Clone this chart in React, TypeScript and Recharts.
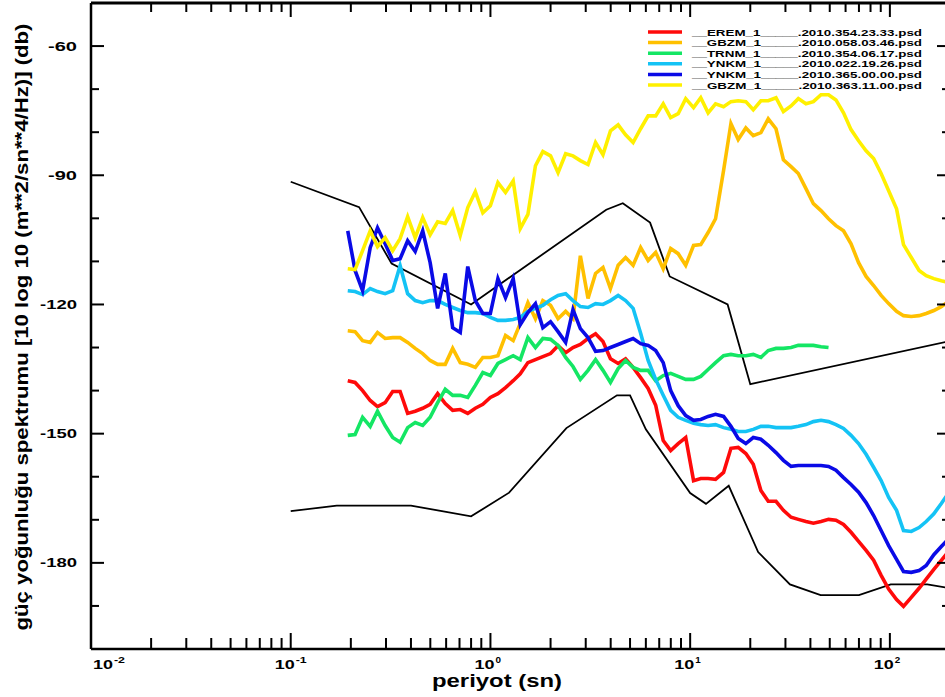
import { Line, LineChart, ReferenceLine, XAxis, YAxis } from "recharts";

// periods (s) shared by the six PSD curves
const periods = [
  0.193, 0.21, 0.229, 0.25, 0.272, 0.297, 0.324, 0.353, 0.385, 0.42,
  0.458, 0.499, 0.544, 0.594, 0.647, 0.706, 0.77, 0.84, 0.916, 0.999,
  1.09, 1.19, 1.3, 1.41, 1.54, 1.68, 1.83, 2.0, 2.18, 2.38,
  2.59, 2.82, 3.08, 3.36, 3.66, 3.99, 4.36, 4.75, 5.18, 5.65,
  6.16, 6.72, 7.33, 7.99, 8.71, 9.5, 10.4, 11.3, 12.3, 13.4,
  14.7, 16.0, 17.4, 19.0, 20.7, 22.6, 24.6, 26.9, 29.3, 32.0,
  34.8, 38.0, 41.4, 45.2, 49.3, 53.7, 58.6, 63.9, 69.7, 76.0,
  82.9, 90.4, 98.6, 108, 117, 128, 140, 152, 166, 181,
  197,
];

const erem = [
  -137.7, -138.1, -140.0, -142.3, -143.7, -142.8, -140.2, -140.2, -145.3, -144.8,
  -144.1, -143.2, -140.7, -143.0, -144.6, -144.4, -145.3, -144.1, -143.2, -141.6,
  -140.7, -139.3, -137.7, -136.1, -133.5, -132.8, -132.1, -131.4, -129.6, -131.2,
  -130.0, -129.3, -127.9, -126.8, -128.6, -132.6, -133.7, -132.6, -134.6, -137.0,
  -139.5, -143.4, -151.6, -153.9, -152.3, -150.9, -160.9, -160.4, -160.4, -160.6,
  -159.0, -153.4, -153.2, -154.6, -157.1, -163.2, -165.7, -165.7, -167.8, -169.4,
  -169.9, -170.4, -170.8, -170.4, -169.9, -170.1, -171.1, -172.9, -175.0, -177.1,
  -179.4, -182.9, -186.1, -188.5, -190.1, -188.0, -185.9, -183.8, -181.5, -179.4,
  -177.3,
];

const gbzm058 = [
  -126.1, -126.3, -128.4, -128.8, -126.5, -127.9, -127.7, -127.7, -128.8, -130.2,
  -131.4, -133.0, -133.9, -133.9, -130.2, -133.5, -133.9, -134.6, -132.3, -132.3,
  -131.9, -127.2, -128.4, -124.4, -119.6, -123.3, -119.1, -120.2, -123.3, -121.6,
  -123.3, -108.7, -118.6, -112.8, -111.4, -116.3, -110.9, -109.1, -110.9, -106.8,
  -109.8, -107.9, -111.7, -107.0, -108.2, -110.9, -106.3, -106.1, -103.3, -100.1,
  -88.9, -78.0, -81.7, -79.0, -80.8, -80.1, -76.9, -79.2, -86.4, -88.0,
  -89.6, -93.1, -96.6, -98.2, -100.1, -101.7, -102.9, -105.9, -110.3, -113.5,
  -115.6, -117.9, -119.8, -121.6, -122.6, -122.8, -122.6, -122.1, -121.4, -120.5,
  -119.3,
];

// TRNM stops at about 50 s
const trnm = [
  -150.4, -150.2, -146.2, -148.3, -144.8, -148.1, -150.9, -152.0, -148.6, -147.4,
  -148.1, -146.2, -142.8, -139.7, -141.1, -141.1, -141.6, -138.8, -135.8, -136.5,
  -133.7, -132.8, -131.9, -132.8, -127.7, -130.0, -127.9, -128.1, -129.5, -132.3,
  -134.4, -137.4, -135.3, -132.8, -135.3, -138.1, -134.9, -133.0, -134.6, -135.3,
  -135.3, -137.7, -136.5, -136.0, -136.7, -137.4, -137.4, -136.7, -135.1, -133.5,
  -131.9, -131.6, -131.9, -131.9, -131.6, -132.3, -130.7, -130.2, -130.2, -130.0,
  -129.5, -129.5, -129.5, -129.8, -130.0,
];

const ynkm022 = [
  -116.8, -117.0, -117.7, -116.3, -117.0, -117.5, -116.8, -111.0, -117.5, -119.1,
  -119.6, -119.1, -119.1, -120.0, -120.7, -121.4, -121.9, -121.9, -122.1, -123.0,
  -123.7, -123.7, -123.5, -123.0, -121.6, -120.9, -120.2, -118.9, -117.9, -117.5,
  -119.1, -120.5, -120.7, -119.8, -120.0, -119.1, -117.9, -119.1, -120.9, -126.7,
  -133.0, -137.4, -141.1, -144.6, -146.2, -146.9, -147.6, -147.9, -148.1, -147.9,
  -148.6, -149.0, -149.5, -149.5, -149.0, -148.3, -148.3, -148.6, -148.6, -148.6,
  -148.3, -147.9, -147.2, -146.9, -147.2, -147.9, -148.8, -150.4, -152.3, -154.8,
  -157.8, -160.9, -164.8, -167.8, -172.5, -172.7, -171.8, -170.4, -168.6, -166.2,
  -163.7,
];

const ynkm365 = [
  -102.9, -112.1, -116.8, -106.8, -102.2, -105.9, -109.8, -109.4, -105.2, -107.7,
  -102.9, -110.3, -120.9, -112.8, -125.4, -126.5, -111.2, -119.1, -122.1, -122.1,
  -114.0, -118.4, -114.0, -124.7, -121.9, -119.8, -125.4, -124.0, -126.3, -128.8,
  -121.2, -125.6, -127.7, -130.9, -130.7, -130.0, -129.3, -128.6, -127.9, -129.1,
  -129.5, -130.7, -133.5, -140.0, -143.5, -145.8, -146.9, -146.7, -146.0, -145.5,
  -146.0, -148.3, -151.1, -152.3, -150.9, -151.3, -152.7, -154.4, -156.2, -157.6,
  -157.4, -157.4, -157.4, -157.4, -157.6, -158.5, -160.2, -161.8, -163.6, -166.0,
  -169.0, -172.5, -176.0, -179.2, -182.0, -182.2, -181.8, -180.6, -178.1, -176.2,
  -174.4,
];

const gbzm363 = [
  -111.7, -111.9, -107.5, -102.9, -106.6, -104.5, -107.5, -104.7, -99.6, -104.5,
  -99.8, -103.8, -100.8, -101.2, -98.2, -104.0, -97.5, -93.8, -98.7, -97.1,
  -91.7, -94.0, -91.3, -102.4, -99.1, -87.8, -84.5, -85.5, -89.4, -85.0,
  -85.5, -86.6, -87.5, -82.4, -85.2, -79.7, -78.3, -80.6, -82.4, -79.2,
  -76.2, -76.2, -73.4, -76.6, -75.7, -72.2, -74.3, -72.0, -75.5, -73.4,
  -74.1, -72.9, -72.7, -72.9, -74.8, -72.7, -72.7, -72.0, -75.2, -73.9,
  -72.2, -73.4, -72.9, -71.3, -71.3, -72.5, -75.5, -79.4, -82.0, -84.3,
  -86.1, -89.6, -93.6, -97.8, -106.1, -109.1, -112.1, -113.3, -114.0, -114.5,
  -114.9,
];

// Peterson high / low noise model break points
const nhnmPeriods = [0.1, 0.22, 0.32, 0.8, 3.8, 4.6, 6.3, 7.9, 15.4, 20, 200];
const nhnmDb = [-91.5, -97.4, -110.5, -120.0, -98.0, -96.5, -101.0, -113.5, -120.0, -138.5, -128.5];
const nlnmPeriods = [0.1, 0.17, 0.4, 0.8, 1.24, 2.4, 4.3, 5, 6, 10, 12, 15.6, 21.9, 31.6, 45, 70, 101, 154, 200];
const nlnmDb = [
  -168.0, -166.7, -166.7, -169.2, -163.7, -148.7, -141.1, -141.1, -149.0, -163.8,
  -166.3, -162.1, -177.5, -185.0, -187.5, -187.5, -185.0, -185.0, -185.9,
];

const seriesKeys = ["erem", "gbzm058", "trnm", "ynkm022", "ynkm365", "gbzm363"];
const seriesValues = [erem, gbzm058, trnm, ynkm022, ynkm365, gbzm363];
const seriesNames = [
  "__EREM_1_____.2010.354.23.33.psd",
  "__GBZM_1_____.2010.058.03.46.psd",
  "__TRNM_1_____.2010.354.06.17.psd",
  "__YNKM_1_____.2010.022.19.26.psd",
  "__YNKM_1_____.2010.365.00.00.psd",
  "__GBZM_1_____.2010.363.11.00.psd",
];
const seriesColors = ["#ff0a0a", "#ffc000", "#14e664", "#14c3f5", "#0a0ae6", "#fff000"];

const xMin = 0.01;
const xMax = 200;
const yMin = -200;
const yMax = -50;
const xMajorTicks = [0.01, 0.1, 1, 10, 100];
const xExponents = ["-2", "-1", "0", "1", "2"];
const xTicks = [
  0.01, 0.02, 0.03, 0.04, 0.05, 0.06, 0.07, 0.08, 0.09,
  0.1, 0.2, 0.3, 0.4, 0.5, 0.6, 0.7, 0.8, 0.9,
  1, 2, 3, 4, 5, 6, 7, 8, 9,
  10, 20, 30, 40, 50, 60, 70, 80, 90,
  100,
];
const yTicks = [-190, -180, -170, -160, -150, -140, -130, -120, -110, -100, -90, -80, -70, -60];
const yLabelledTicks = [-60, -90, -120, -150, -180];

const FONT = "'Liberation Sans', Arial, Helvetica, sans-serif";
const CHART_W = 960;
const CHART_H = 697;
const MARGIN = { top: 3, right: 10, bottom: 0, left: 31 };
const X_AXIS_H = 48;
const Y_AXIS_W = 60;
// plot box size, used to mirror the ticks onto the top and right frame
const PLOT_H = CHART_H - MARGIN.top - MARGIN.bottom - X_AXIS_H;
const PLOT_W = CHART_W - MARGIN.left - MARGIN.right - Y_AXIS_W;

const psdRows = periods.map((period, i) => {
  const row: Record<string, number | null> = { period };
  seriesKeys.forEach((key, s) => {
    const v = seriesValues[s][i];
    row[key] = v === undefined ? null : v;
  });
  return row;
});
const nhnmRows = nhnmPeriods.map((period, i) => ({ period, db: nhnmDb[i] }));
const nlnmRows = nlnmPeriods.map((period, i) => ({ period, db: nlnmDb[i] }));

function BottomTick(props: any) {
  const { x, y, payload } = props;
  const idx = xMajorTicks.indexOf(payload.value);
  const len = idx >= 0 ? 16 : 11;
  const top = y - PLOT_H;
  // the first decade label is pushed inside the left edge
  const lx = idx === 0 ? x + 18 : x;
  return (
    <g>
      <line x1={x} y1={y} x2={x} y2={y - len} stroke="#000" strokeWidth={2} />
      <line x1={x} y1={top} x2={x} y2={top + len - 2} stroke="#000" strokeWidth={2} />
      {idx >= 0 && (
        <g fontFamily={FONT} fontWeight="bold" fill="#000">
          <text x={lx - 16} y={y + 20} fontSize={13} textLength={20} lengthAdjust="spacingAndGlyphs">
            10
          </text>
          <text
            x={lx + 5}
            y={y + 14}
            fontSize={9}
            textLength={xExponents[idx].length * 5.5}
            lengthAdjust="spacingAndGlyphs"
          >
            {xExponents[idx]}
          </text>
        </g>
      )}
    </g>
  );
}

function LeftTick(props: any) {
  const { x, y, payload } = props;
  const major = yLabelledTicks.includes(payload.value);
  const len = major ? 13 : 8;
  const right = x + PLOT_W;
  const label = String(payload.value);
  return (
    <g>
      <line x1={x} y1={y} x2={x + len} y2={y} stroke="#000" strokeWidth={2} />
      <line x1={right} y1={y} x2={right - len} y2={y} stroke="#000" strokeWidth={2} />
      {major && (
        <text
          x={x - 14}
          y={y + 4.5}
          textAnchor="end"
          fontFamily={FONT}
          fontWeight="bold"
          fontSize={12.5}
          textLength={label.length > 3 ? 37 : 29}
          lengthAdjust="spacingAndGlyphs"
          fill="#000"
        >
          {label}
        </text>
      )}
    </g>
  );
}

export default function App() {
  return (
    <div
      style={{
        position: "absolute",
        left: 0,
        top: 0,
        width: 945,
        height: 697,
        overflow: "hidden",
        background: "#fff",
      }}
    >
      <LineChart width={CHART_W} height={CHART_H} data={psdRows} margin={MARGIN}>
        <XAxis
          dataKey="period"
          type="number"
          scale="log"
          domain={[xMin, xMax]}
          allowDataOverflow
          ticks={xTicks}
          interval={0}
          height={X_AXIS_H}
          tickSize={0}
          tickMargin={0}
          tickLine={false}
          axisLine={{ stroke: "#000", strokeWidth: 2.5 }}
          tick={(p: any) => <BottomTick {...p} />}
        />
        <YAxis
          type="number"
          domain={[yMin, yMax]}
          allowDataOverflow
          ticks={yTicks}
          interval={0}
          width={Y_AXIS_W}
          tickSize={0}
          tickMargin={0}
          tickLine={false}
          axisLine={{ stroke: "#000", strokeWidth: 2.5 }}
          tick={(p: any) => <LeftTick {...p} />}
        />
        {/* top and right frame */}
        <ReferenceLine y={yMax} stroke="#000" strokeWidth={3} />
        <ReferenceLine x={xMax} stroke="#000" strokeWidth={2.5} />

        <Line data={nhnmRows} dataKey="db" stroke="#000" strokeWidth={1.8} dot={false} isAnimationActive={false} />
        <Line data={nlnmRows} dataKey="db" stroke="#000" strokeWidth={1.8} dot={false} isAnimationActive={false} />
        {seriesKeys.map((key, s) => (
          <Line
            key={key}
            dataKey={key}
            stroke={seriesColors[s]}
            strokeWidth={3.6}
            dot={false}
            connectNulls={false}
            isAnimationActive={false}
          />
        ))}
      </LineChart>

      <svg
        width={945}
        height={697}
        style={{ position: "absolute", left: 0, top: 0, pointerEvents: "none" }}
        fontFamily={FONT}
        fontWeight="bold"
      >
        <text
          transform="translate(28, 327) rotate(-90)"
          textAnchor="middle"
          fontSize={18.5}
          textLength={607}
          lengthAdjust="spacingAndGlyphs"
        >
          güç yoğunluğu spektrumu [10 log 10 (m**2/sn**4/Hz)] (db)
        </text>
        <text x={432} y={687} fontSize={17.5} textLength={130} lengthAdjust="spacingAndGlyphs">
          periyot (sn)
        </text>
        {seriesNames.map((name, s) => (
          <g key={name}>
            <line
              x1={648}
              x2={682}
              y1={32 + s * 10.6}
              y2={32 + s * 10.6}
              stroke={seriesColors[s]}
              strokeWidth={3.5}
            />
            <text x={692} y={35.5 + s * 10.6} fontSize={9.5} textLength={230} lengthAdjust="spacingAndGlyphs">
              {name}
            </text>
          </g>
        ))}
      </svg>
    </div>
  );
}
